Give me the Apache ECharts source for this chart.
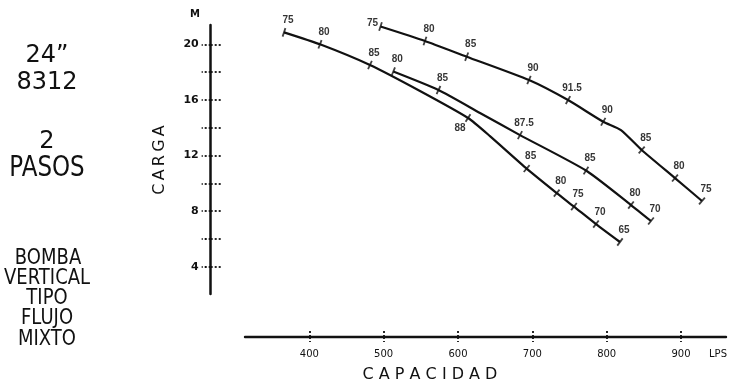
<!DOCTYPE html>
<html><head><meta charset="utf-8">
<script src="https://cdn.jsdelivr.net/npm/echarts@6/dist/echarts.min.js"></script>
<style>html,body{margin:0;padding:0;background:#fff}#c{width:732px;height:384px}</style>
</head><body><div id="c"></div>
<script>
// ---- DATA (capacity in LPS, head in m, efficiency marks in %) ----
const curveA_q   = [366.0, 414.4, 481.6, 548.9, 613.5, 643.0, 692.4, 732.8, 756.0, 785.6, 817.9];
const curveA_h   = [20.86, 20.0, 18.51, 16.64, 14.70, 13.40, 11.06, 9.30, 8.33, 7.07, 5.78];
const curveA_eff = ['75', '80', '85', null, '88', null, '85', '80', '75', '70', '65'];

const curveB_q   = [513.0, 573.8, 629.6, 683.4, 772.2, 832.7, 859.6];
const curveB_h   = [18.04, 16.71, 15.06, 13.47, 10.92, 8.44, 7.29];
const curveB_eff = ['80', '85', null, '87.5', '85', '80', '70'];

const curveC_q   = [495.8, 555.6, 611.7, 695.5, 748.0, 795.4, 819.2, 847.1, 891.9, 928.2];
const curveC_h   = [21.28, 20.24, 19.11, 17.43, 15.99, 14.43, 13.83, 12.40, 10.38, 8.73];
const curveC_eff = ['75', '80', '85', '90', '91.5', '90', null, '85', '80', '75'];

const capTicks   = [400, 500, 600, 700, 800, 900];
const headTicks  = [4, 6, 8, 10, 12, 14, 16, 18, 20];
const headLabels = [4, 8, 12, 16, 20];

// ---- LAYOUT ----
const INK = '#111';
const FONT = 'DejaVu Sans';
const X0_MIN = 267.4, X1_MIN = 313.5, X_MAX = 960.5;
const Y_MIN = 2.04, Y_MAX = 21.39;
const labelOffsetDefault = [4, -12];
const labelOffsetOverride = { A: { 4: [-8, 10] }, C: { 0: [-8, -3] } };

const curves = [
  { id: 'A', q: curveA_q, h: curveA_h, eff: curveA_eff },
  { id: 'B', q: curveB_q, h: curveB_h, eff: curveB_eff },
  { id: 'C', q: curveC_q, h: curveC_h, eff: curveC_eff }
];

const chart = echarts.init(document.getElementById('c'), null, { renderer: 'canvas' });

const dottedTick = { color: INK, width: 1.8, type: [2, 2] };

function buildSeries(rotations) {
  const s = [];
  curves.forEach((c, ci) => {
    const pts = c.q.map((q, i) => [q, c.h[i]]);
    s.push({
      id: 'line' + c.id, type: 'line', xAxisIndex: 0, yAxisIndex: 0,
      data: pts, showSymbol: false, symbol: 'none', smooth: 0.2, clip: false,
      lineStyle: { color: INK, width: 2.2 }, silent: true, z: 3
    });
    const ticks = [], labels = [];
    c.eff.forEach((e, i) => {
      if (e === null) return;
      ticks.push({ value: pts[i], symbolRotate: rotations ? rotations[ci][i] : 0 });
      const off = (labelOffsetOverride[c.id] && labelOffsetOverride[c.id][i]) || labelOffsetDefault;
      labels.push({ value: pts[i], name: e, label: { offset: off } });
    });
    s.push({
      id: 'tick' + c.id, type: 'scatter', xAxisIndex: 0, yAxisIndex: 0,
      data: ticks, symbol: 'rect', symbolSize: [1.8, 9], clip: false,
      itemStyle: { color: INK }, silent: true, z: 4
    });
    s.push({
      id: 'lab' + c.id, type: 'scatter', xAxisIndex: 0, yAxisIndex: 0,
      data: labels, symbol: 'circle', symbolSize: 1, clip: false,
      itemStyle: { color: 'rgba(0,0,0,0)' }, silent: true, z: 5,
      label: {
        show: true, position: 'inside', formatter: p => p.name,
        color: '#000', fontFamily: 'Liberation Sans', fontWeight: 'bold', fontSize: 10
      }
    });
  });
  return s;
}

function txt(x, y, text, size, opts) {
  opts = opts || {};
  return {
    type: 'text', x: x, y: y, rotation: opts.rotation || 0,
    scaleX: 1, scaleY: opts.scaleY || 1, silent: true,
    style: {
      text: text, fill: INK, fontFamily: FONT, fontSize: size,
      fontWeight: opts.weight || 'normal',
      textAlign: 'center', textVerticalAlign: 'middle',
      align: 'center', verticalAlign: 'middle'
    }
  };
}

const thin = '\u2009';
const option = {
  animation: false,
  backgroundColor: '#fff',
  grid: [
    { left: 210.7, right: 6, top: 25, bottom: 90 },
    { left: 245, right: 6, top: 250, bottom: 47 }
  ],
  xAxis: [
    { gridIndex: 0, type: 'value', min: X0_MIN, max: X_MAX, show: false },
    {
      gridIndex: 1, type: 'value', min: X1_MIN, max: X_MAX, position: 'bottom',
      axisLine: { show: true, onZero: false, lineStyle: { color: INK, width: 2.4 } },
      axisTick: { show: true, inside: false, length: 5, customValues: capTicks, lineStyle: dottedTick },
      axisLabel: { show: true, customValues: capTicks, margin: 12, color: INK, fontFamily: FONT, fontSize: 10 },
      splitLine: { show: false }
    },
    {
      gridIndex: 1, type: 'value', min: X1_MIN, max: X_MAX, position: 'bottom', offset: 0,
      axisLine: { show: false, onZero: false },
      axisTick: { show: true, inside: true, length: 8, customValues: capTicks, lineStyle: dottedTick },
      axisLabel: { show: false }, splitLine: { show: false }
    }
  ],
  yAxis: [
    {
      gridIndex: 0, type: 'value', min: Y_MIN, max: Y_MAX, position: 'left',
      axisLine: { show: true, onZero: false, lineStyle: { color: INK, width: 2.5 } },
      axisTick: { show: true, inside: false, length: 9, customValues: headTicks, lineStyle: dottedTick },
      axisLabel: { show: true, customValues: headLabels, margin: 12, color: INK, fontFamily: FONT, fontWeight: 'bold', fontSize: 11 },
      splitLine: { show: false }
    },
    {
      gridIndex: 0, type: 'value', min: Y_MIN, max: Y_MAX, position: 'left', offset: 0,
      axisLine: { show: false, onZero: false },
      axisTick: { show: true, inside: true, length: 10, customValues: headTicks, lineStyle: dottedTick },
      axisLabel: { show: false }, splitLine: { show: false }
    },
    { gridIndex: 1, type: 'value', min: 0, max: 1, show: false }
  ],
  graphic: [
    txt(47, 56, '24\u201D', 24),
    txt(47, 82, '8312', 24, { scaleY: 1.05 }),
    txt(47, 141, '2', 24, { scaleY: 1.05 }),
    txt(47, 169, 'PASOS', 23, { scaleY: 1.2 }),
    txt(48, 258, 'BOMBA', 18, { scaleY: 1.2 }),
    txt(47, 278, 'VERTICAL', 18, { scaleY: 1.2 }),
    txt(47, 298, 'TIPO', 18, { scaleY: 1.2 }),
    txt(47, 318, 'FLUJO', 18, { scaleY: 1.2 }),
    txt(47, 339, 'MIXTO', 18, { scaleY: 1.2 }),
    txt(160, 160, ['C', 'A', 'R', 'G', 'A'].join(thin), 16, { rotation: Math.PI / 2 }),
    txt(195, 14, 'M', 10, { weight: 'bold' }),
    txt(430, 375, 'C A P A C I D A D', 16),
    txt(718, 354, 'LPS', 10)
  ],
  series: buildSeries(null)
};

chart.setOption(option);

// rotate efficiency tick marks perpendicular to their curve (using the chart's own scales)
const rotations = curves.map(c => {
  const px = c.q.map((q, i) => chart.convertToPixel({ xAxisIndex: 0, yAxisIndex: 0 }, [q, c.h[i]]));
  return px.map((p, i) => {
    const a = px[Math.max(0, i - 1)], b = px[Math.min(px.length - 1, i + 1)];
    return -Math.atan2(b[1] - a[1], b[0] - a[0]) * 180 / Math.PI;
  });
});
chart.setOption({ series: buildSeries(rotations) });
</script>
</body></html>
